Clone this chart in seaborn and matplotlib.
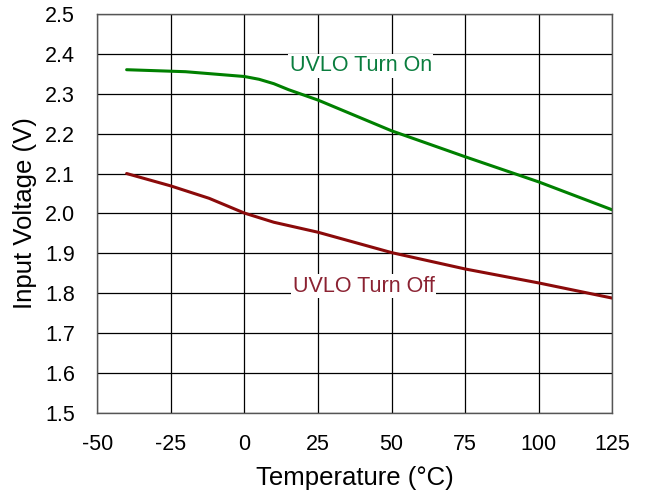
import matplotlib
matplotlib.use('Agg')
import pandas as pd
import seaborn as sns
import matplotlib.pyplot as plt

# valores
temp_on = [-40, -20, 0, 5, 10, 15, 20, 25, 50, 75, 100, 125]
volt_on = [2.360, 2.355, 2.343, 2.336, 2.325, 2.310, 2.297, 2.284, 2.207, 2.142, 2.079, 2.009]

temp_off = [-40, -25, -12, 0, 10, 25, 50, 75, 100, 125]
volt_off = [2.100, 2.069, 2.038, 2.001, 1.978, 1.953, 1.902, 1.861, 1.826, 1.788]

x_ticks = [-50, -25, 0, 25, 50, 75, 100, 125]
y_ticks = [1.5, 1.6, 1.7, 1.8, 1.9, 2.0, 2.1, 2.2, 2.3, 2.4, 2.5]

df_on = pd.DataFrame({'temp': temp_on, 'volt': volt_on})
df_off = pd.DataFrame({'temp': temp_off, 'volt': volt_off})

sns.set_style('white')
plt.rcParams['font.family'] = ['Liberation Sans', 'DejaVu Sans']

fig, ax = plt.subplots(figsize=(6.48, 4.93), dpi=100)
fig.subplots_adjust(left=0.15, right=0.945, top=0.972, bottom=0.162)

sns.lineplot(data=df_on, x='temp', y='volt', color='#008000', linewidth=2.2, ax=ax)
sns.lineplot(data=df_off, x='temp', y='volt', color='#8B0A0A', linewidth=2.2, ax=ax)

ax.set_xlim(-50, 125)
ax.set_ylim(1.5, 2.5)
ax.set_xticks(x_ticks)
ax.set_yticks(y_ticks)
ax.set_xticklabels([str(t) for t in x_ticks])
ax.set_yticklabels([f'{v:.1f}' for v in y_ticks])
ax.tick_params(axis='x', labelsize=15.5, length=0, pad=15, labelcolor='black')
ax.tick_params(axis='y', labelsize=15.5, length=0, pad=16, labelcolor='black')
ax.grid(True, color='black', linewidth=0.9)
ax.set_axisbelow(True)
for s in ax.spines.values():
    s.set_color('#555555')
    s.set_linewidth(1)

ax.set_xlabel('Temperature (°C)', fontsize=18.5, labelpad=8, color='black')
ax.set_ylabel('Input Voltage (V)', fontsize=18.5, labelpad=6, color='black')

ax.text(39.5, 2.37, 'UVLO Turn On', color='#0A7D3E', fontsize=15.5, ha='center', va='center',
        bbox=dict(facecolor='white', edgecolor='none', pad=1))
ax.text(40.5, 1.818, 'UVLO Turn Off', color='#8B2232', fontsize=15.5, ha='center', va='center',
        bbox=dict(facecolor='white', edgecolor='none', pad=1))

plt.savefig('out.png', dpi=100)
